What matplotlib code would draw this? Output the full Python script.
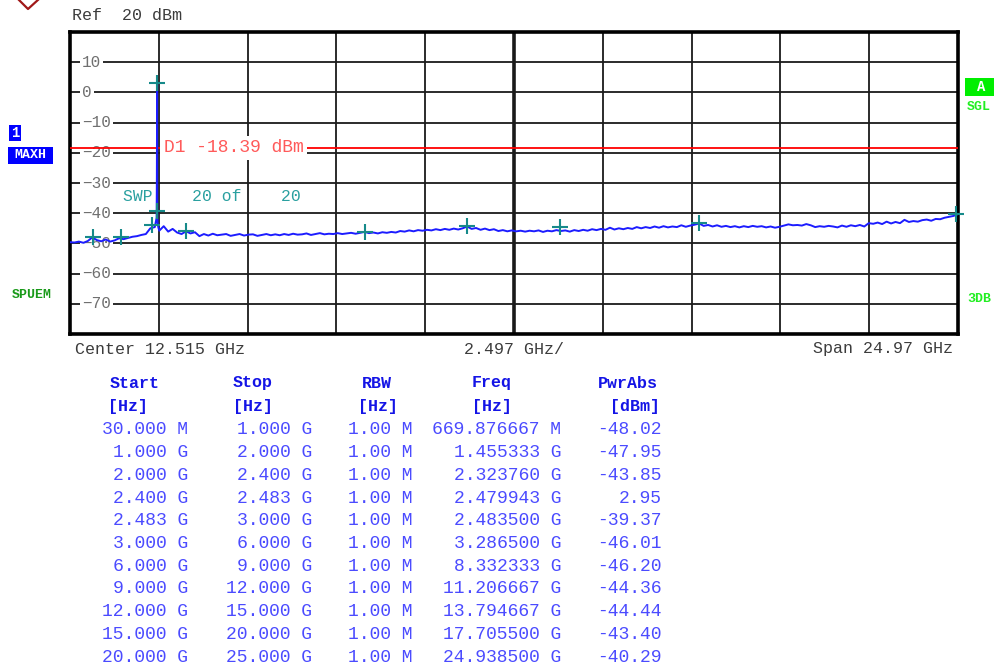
import numpy as np
import matplotlib
matplotlib.use("Agg")
import matplotlib.pyplot as plt
from matplotlib.lines import Line2D
from matplotlib.patches import Rectangle

# ---------------- data ----------------
start_ghz = 0.03
stop_ghz = 25.0
ref_level = 20
y_bottom = -80
y_tick_vals = [10, 0, -10, -20, -30, -40, -50, -60, -70]
d1_level = -18.39

base_freq = list(np.linspace(0.03, 25.0, 200))
base_level = [
    -49.6, -49.7, -49.4, -49.8, -49.2, -48.0, -48.9, -49.3, -48.7, -49.4,
    -49.0, -48.3, -48.6, -48.2, -47.8, -47.6, -47.2, -46.9, -45.0, -44.6,
    -45.8, -44.3, -46.1, -45.2, -46.4, -46.9, -46.0, -46.7, -46.3, -47.6,
    -46.9, -47.4, -46.8, -47.3, -47.1, -46.9, -47.5, -47.2, -46.9, -47.4,
    -47.1, -47.0, -47.5, -47.2, -46.9, -47.3, -47.0, -47.3, -46.9, -47.2,
    -46.8, -47.1, -47.0, -46.7, -47.2, -46.9, -46.6, -47.0, -46.8, -46.9,
    -46.6, -46.9, -46.7, -46.5, -46.8, -46.5, -46.2, -46.6, -46.4, -46.7,
    -46.3, -46.5, -46.2, -46.4, -45.9, -46.1, -45.7, -46.0, -45.6, -45.8,
    -45.5, -45.7, -45.3, -45.6, -45.2, -45.5, -45.1, -45.4, -45.0, -44.4,
    -45.2, -44.9, -45.5, -45.1, -45.6, -45.3, -45.9, -45.6, -46.0, -45.7,
    -46.0, -45.8, -46.1, -45.8, -46.0, -45.7, -46.2, -45.8, -46.0, -45.6,
    -45.9, -45.7, -46.1, -45.6, -45.9, -45.5, -45.8, -45.3, -45.6, -45.2,
    -45.5, -44.8, -45.4, -45.0, -45.3, -44.9, -45.2, -44.6, -45.0, -44.6,
    -44.9, -44.4, -44.8, -44.3, -44.7, -44.4, -44.6, -44.0, -44.5, -44.1,
    -43.8, -43.4, -44.2, -43.9, -44.4, -44.0, -44.5, -44.2, -44.6, -44.3,
    -44.7, -44.3, -44.6, -44.2, -44.5, -44.3, -44.7, -44.4, -44.8, -44.5,
    -44.1, -43.7, -44.0, -43.9, -44.1, -43.6, -44.0, -44.6, -44.3, -44.5,
    -44.2, -44.4, -44.7, -44.1, -44.5, -44.0, -44.3, -43.9, -44.4, -43.3,
    -43.5, -43.1, -43.6, -42.8, -43.4, -42.9, -43.3, -42.2, -42.9, -42.6,
    -42.8, -42.3, -42.1, -42.5, -41.9, -42.0, -41.5, -41.2, -40.9, -40.3,
]
spike_freq = [2.44, 2.455, 2.466, 2.472, 2.476, 2.479943, 2.4815, 2.4835, 2.49, 2.51]
spike_level = [-43.0, -42.0, -41.5, -30.0, -4.0, 2.95, -20.0, -39.37, -43.0, -44.5]

# marker table
tbl_start = ["30.000 M", "1.000 G", "2.000 G", "2.400 G", "2.483 G", "3.000 G",
             "6.000 G", "9.000 G", "12.000 G", "15.000 G", "20.000 G"]
tbl_stop = ["1.000 G", "2.000 G", "2.400 G", "2.483 G", "3.000 G", "6.000 G",
            "9.000 G", "12.000 G", "15.000 G", "20.000 G", "25.000 G"]
tbl_rbw = ["1.00 M"] * 11
tbl_freq = ["669.876667 M", "1.455333 G", "2.323760 G", "2.479943 G", "2.483500 G",
            "3.286500 G", "8.332333 G", "11.206667 G", "13.794667 G",
            "17.705500 G", "24.938500 G"]
marker_freq_ghz = [0.669876667, 1.455333, 2.323760, 2.479943, 2.483500, 3.286500,
                   8.332333, 11.206667, 13.794667, 17.705500, 24.938500]
marker_pwr = [-48.02, -47.95, -43.85, 2.95, -39.37, -46.01, -46.20, -44.36,
              -44.44, -43.40, -40.29]

# ---------------- figure ----------------
W, H = 995, 668
fig = plt.figure(figsize=(W / 100, H / 100), dpi=100)
fig.patch.set_facecolor("white")
MONO = "Liberation Mono"

def fx(px):
    return px / W

def fy(py):
    return 1 - py / H

L, R, T, B = 70, 958, 32, 334
ax = fig.add_axes([fx(L), fy(B), fx(R) - fx(L), fy(T) - fy(B)])
ax.set_xlim(start_ghz, stop_ghz)
ax.set_ylim(y_bottom, ref_level)
ax.set_xticks([])
ax.set_yticks([])
for s in ax.spines.values():
    s.set_linewidth(2.6)
    s.set_color("black")

span = stop_ghz - start_ghz
grid_col = "#1a1a1a"
for k in range(1, 10):
    xv = start_ghz + k * span / 10
    ax.axvline(xv, color=grid_col, lw=2.6 if k == 5 else 1.3, zorder=1)
for yv in y_tick_vals:
    ax.axhline(yv, color=grid_col, lw=1.3, zorder=1)

# y tick labels inside plot
for yv in y_tick_vals:
    ax.text((82 - L) / (R - L), yv, f"{yv}".replace("-", "\u2212"),
            transform=ax.get_yaxis_transform(), ha="left", va="center",
            family=MONO, fontsize=11.5, color="#707070", zorder=2,
            bbox=dict(boxstyle="square,pad=0.12", fc="white", ec="none"))

# D1 line
ax.axhline(d1_level, color="#ff0000", lw=1.3, zorder=3)
ax.text(2.66, d1_level, "D1 -18.39 dBm", ha="left", va="center", family=MONO,
        fontsize=13, color="#ff5a5a", zorder=4,
        bbox=dict(boxstyle="square,pad=0.2", fc="white", ec="none"))

# SWP text
ax.text(1.52, -34.5, "SWP    20 of    20", ha="left", va="center", family=MONO,
        fontsize=11.8, color="#2aa0a0", zorder=4)

# trace
freqs = np.array(base_freq + spike_freq)
levels = np.array(base_level + spike_level)
order = np.argsort(freqs)
ax.plot(freqs[order], levels[order], color="#1c1cff", lw=1.4, zorder=5,
        clip_on=True)

# markers
ax.plot(marker_freq_ghz, marker_pwr, linestyle="none", marker="+",
        markersize=12, markeredgewidth=1.5, color="#168a8a", zorder=6,
        clip_on=False)

# ---------------- texts around ----------------
txt_col = "#3c3c3c"
fig.text(fx(72), fy(16), "Ref  20 dBm", family=MONO, fontsize=12, color=txt_col,
         ha="left", va="center")
fig.text(fx(75), fy(349), "Center 12.515 GHz", family=MONO, fontsize=12,
         color=txt_col, ha="left", va="center")
fig.text(fx(514), fy(349), "2.497 GHz/", family=MONO, fontsize=12,
         color=txt_col, ha="center", va="center")
fig.text(fx(953), fy(349), "Span 24.97 GHz", family=MONO, fontsize=12,
         color=txt_col, ha="right", va="center")

# top-left chevron
fig.add_artist(Line2D([fx(18), fx(28), fx(39)], [fy(-1), fy(9), fy(-1)],
                      color="#a01818", lw=1.6, transform=fig.transFigure))

def box(x0, y0, x1, y1, color):
    fig.add_artist(Rectangle((fx(x0), fy(y1)), fx(x1) - fx(x0), fy(y0) - fy(y1),
                             transform=fig.transFigure, fc=color, ec="none"))

# side labels
box(9, 125, 21, 141, "#0000ff")
fig.text(fx(15), fy(133), "1", family=MONO, fontsize=10, weight="bold",
         color="white", ha="center", va="center")
box(8, 147, 53, 164, "#0000ff")
fig.text(fx(30.5), fy(155.5), "MAXH", family=MONO, fontsize=9.5, weight="bold",
         color="white", ha="center", va="center")
fig.text(fx(12), fy(295), "SPUEM", family=MONO, fontsize=9.5, weight="bold",
         color="#1a9a1a", ha="left", va="center")
box(965, 78, 995, 96, "#00ee00")
fig.text(fx(981), fy(87), "A", family=MONO, fontsize=10, weight="bold",
         color="white", ha="center", va="center")
fig.text(fx(967), fy(107), "SGL", family=MONO, fontsize=9.5, weight="bold",
         color="#22ee22", ha="left", va="center")
fig.text(fx(967), fy(299), "3DB", family=MONO, fontsize=9.5, weight="bold",
         color="#22ee22", ha="left", va="center")

# ---------------- table ----------------
hdr_col = "#1414e6"
val_col = "#4b4bff"
hdr1 = [("Start", 135), ("Stop", 253), ("RBW", 377), ("Freq", 492), ("PwrAbs", 628)]
hdr2 = [("[Hz]", 128), ("[Hz]", 253), ("[Hz]", 378), ("[Hz]", 492), ("[dBm]", 635)]
for t, x in hdr1:
    fig.text(fx(x), fy(383), t, family=MONO, fontsize=12, weight="bold",
             color=hdr_col, ha="center", va="center")
for t, x in hdr2:
    fig.text(fx(x), fy(407), t, family=MONO, fontsize=12, weight="bold",
             color=hdr_col, ha="center", va="center")

col_right = [188, 312, 413, 561, 662]
row_y0, row_dy = 430, 22.7
for i in range(len(tbl_start)):
    y = fy(row_y0 + i * row_dy)
    vals = [tbl_start[i], tbl_stop[i], tbl_rbw[i], tbl_freq[i], f"{marker_pwr[i]:.2f}"]
    for v, xr in zip(vals, col_right):
        fig.text(fx(xr), y, v, family=MONO, fontsize=13, color=val_col,
                 ha="right", va="center")

fig.savefig("out.png", dpi=100, facecolor="white")
